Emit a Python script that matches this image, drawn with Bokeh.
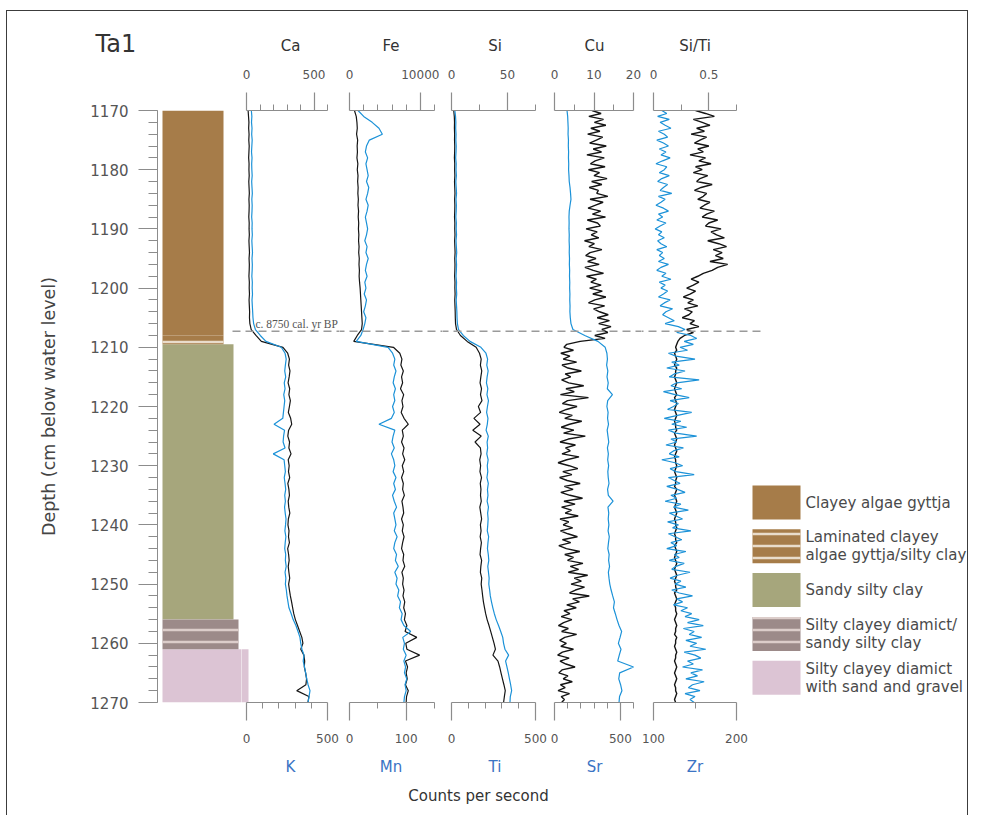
from bokeh.plotting import figure
from bokeh.models import Range1d, LinearAxis, FixedTicker, Label, Arrow, Title
from bokeh.layouts import row, column
from bokeh.embed import file_html
from bokeh.resources import INLINE
from bokeh.core.properties import value

FONT = "DejaVu Sans"

# ---------------- data ----------------
depth_1cm = [1170 + i for i in range(101)]
depth_05cm = [1170 + 0.5 * i for i in range(201)]

ca = [12, 15, 18, 16, 19, 17, 20, 18, 16, 19,
      18, 20, 17, 19, 21, 18, 20, 19, 17, 20,
      19, 21, 18, 20, 22, 19, 21, 20, 18, 21,
      20, 22, 19, 21, 23, 22, 25, 35, 70, 110,
      270, 305, 318, 312, 322, 316, 308, 320, 314, 325,
      318, 310, 327, 335, 312, 306, 319, 314, 330, 309,
      316, 311, 320, 306, 314, 318, 309, 313, 321, 310,
      307, 315, 311, 318, 305, 312, 316, 309, 314, 320,
      312, 318, 325, 334, 342, 350, 362, 378, 394, 410,
      418, 402, 425, 431, 428, 438, 445, 440, 372, 462,
      455]
k = [30, 33, 31, 34, 32, 35, 33, 31, 34, 32,
     33, 35, 32, 34, 36, 33, 35, 34, 32, 35,
     34, 36, 33, 35, 37, 34, 36, 35, 33, 36,
     35, 37, 34, 36, 38, 40, 44, 55, 85, 120,
     215, 238, 245, 240, 236, 242, 233, 238, 230, 236,
     232, 228, 224, 170, 235, 229, 226, 238, 165, 232,
     236, 240, 233, 238, 242, 236, 240, 235, 239, 244,
     241, 237, 243, 239, 236, 242, 240, 245, 238, 243,
     240, 246, 250, 256, 262, 276, 288, 305, 318, 330,
     335, 342, 355, 350, 358, 365, 372, 380, 392, 386,
     380]
fe = [700, 950, 1050, 1100, 1000, 1150, 1080, 1120, 1050, 1180,
      1100, 1200, 1150, 1220, 1180, 1250, 1200, 1280, 1230, 1300,
      1260, 1320, 1280, 1350, 1300, 1380, 1340, 1400, 1360, 1420,
      1500, 1550, 1600, 1650, 1700, 1750, 1800, 1700, 1100, 600,
      6200, 7100, 7400, 7250, 7600, 7350, 7500, 7200, 7650, 7400,
      7550, 7300, 7700, 8300, 7450, 7600, 7350, 7700, 7500, 7800,
      7450, 7650, 7350, 7600, 7500, 7750, 7400, 7550, 7650, 7350,
      7600, 7450, 7700, 7500, 7350, 7650, 7550, 7800, 7400, 7600,
      7500, 7700, 7550, 7800, 7650, 7900, 7750, 8100, 7850, 9500,
      7950, 8100, 9900, 7900, 8200, 8000, 8150, 7900, 8300, 8050,
      8000]
mn = [15, 25, 40, 52, 58, 35, 30, 28, 32, 29,
      31, 33, 30, 34, 32, 29, 33, 31, 28, 30,
      32, 30, 27, 31, 29, 33, 30, 28, 31, 27,
      29, 26, 30, 28, 25, 29, 27, 24, 20, 12,
      68, 76, 80, 78, 82, 79, 77, 81, 78, 80,
      76, 79, 74, 52, 80, 77, 75, 79, 74, 78,
      80, 77, 82, 78, 81, 76, 79, 83, 78, 80,
      82, 79, 84, 80, 78, 83, 81, 86, 80, 84,
      82, 87, 85, 90, 88, 93, 91, 96, 108, 94,
      97, 95, 100, 96, 99, 97, 101, 98, 100, 97,
      96]
si = [2.0, 2.5, 2.7, 2.6, 2.8, 2.7, 2.9, 2.8, 2.6, 2.9,
      2.8, 3.0, 2.7, 2.9, 3.1, 2.8, 3.0, 2.9, 2.7, 3.0,
      2.9, 3.1, 2.8, 3.0, 3.2, 2.9, 3.1, 3.0, 2.8, 3.1,
      3.0, 3.2, 2.9, 3.1, 3.3, 3.4, 3.6, 4.5, 8.0, 14.0,
      22.0, 25.0, 26.5, 25.8, 27.0, 26.2, 25.5, 26.8, 25.9, 27.2,
      24.0, 26.0, 20.0, 25.5, 19.0, 26.5, 21.0, 25.8, 26.4, 25.2,
      26.0, 25.4, 26.8, 25.7, 26.3, 25.9, 26.6, 25.3, 26.1, 26.9,
      25.8, 26.4, 25.6, 26.7, 26.0, 25.5, 26.9, 26.2, 25.8, 27.0,
      26.5, 27.2, 27.8, 28.5, 29.5, 30.5, 31.8, 33.5, 35.0, 36.5,
      38.0, 39.2, 37.0, 41.5, 43.0, 44.2, 45.5, 46.8, 48.0, 47.2,
      46.5]
ti = [20, 24, 26, 25, 27, 26, 28, 27, 25, 28,
      27, 29, 26, 28, 30, 27, 29, 28, 26, 29,
      28, 30, 27, 29, 31, 28, 30, 29, 27, 30,
      29, 31, 28, 30, 32, 33, 35, 42, 70, 110,
      175, 205, 215, 210, 218, 212, 208, 216, 211, 220,
      214, 209, 217, 213, 206, 219, 212, 215, 210, 218,
      213, 216, 211, 219, 214, 217, 212, 220, 215, 218,
      216, 213, 221, 217, 214, 219, 222, 216, 220, 224,
      222, 227, 231, 238, 246, 255, 266, 280, 293, 305,
      310, 318, 340, 322, 330, 338, 345, 352, 358, 350,
      348]
sr = [95, 100, 102, 104, 103, 106, 105, 107, 106, 108,
      107, 110, 112, 118, 122, 125, 118, 112, 110, 111,
      110, 112, 111, 113, 112, 114, 113, 115, 114, 116,
      115, 117, 116, 118, 117, 120, 125, 140, 230, 330,
      385, 398, 402, 396, 405, 399, 408, 401, 440, 404,
      398, 407, 403, 410, 400, 406, 412, 402, 409, 404,
      411, 405, 408, 414, 403, 409, 445, 406, 412, 408,
      413, 407, 416, 410, 405, 415, 411, 418, 409, 414,
      420, 430, 442, 455, 448, 462, 475, 490, 510, 498,
      485, 505, 492, 480, 600, 495, 488, 502, 512, 494,
      490]
cu = [9.5, 11.8, 8.7, 12.4, 10.1, 13.0, 9.2, 11.5, 8.4, 12.2,
      10.6, 8.9, 13.1, 9.8, 11.9, 8.2, 12.6, 10.3, 9.1, 12.8,
      8.6, 11.4, 10.0, 13.3, 9.4, 12.0, 8.8, 11.1, 10.7, 13.5,
      9.0, 12.3, 10.4, 8.5, 11.7, 9.6, 12.9, 8.3, 10.9, 11.6,
      8.0, 10.8, 9.3, 11.2, 7.6, 10.1, 8.7, 12.0, 9.0, 7.9,
      10.5, 8.4, 11.3, 7.7, 9.8, 12.4, 8.1, 10.6, 9.2, 11.8,
      8.9, 12.1, 9.7, 13.0, 10.2, 8.6, 12.7, 9.9, 11.4, 13.6,
      10.8, 13.9, 11.2, 14.3, 12.0, 13.5, 10.2, 12.8, 6.5, 3.1,
      2.4, 4.8, 1.6, 3.9, 2.2, 5.6, 1.9, 3.4, 6.8, 2.7,
      4.1, 1.8, 3.6, 7.4, 2.9, 5.0, 1.5, 8.6, 3.3, 2.0,
      5.7, 3.0, 1.2, 4.5, 2.6, 6.9, 3.8, 1.7, 4.9, 2.3,
      7.8, 3.5, 1.4, 5.3, 2.8, 4.0, 1.9, 6.2, 3.1, 0.9,
      3.7, 5.9, 2.1, 4.4, 1.3, 3.2, 6.5, 2.5, 4.7, 1.6,
      3.9, 7.1, 2.4, 5.2, 1.8, 4.3, 2.7, 6.0, 1.4, 3.6,
      2.2, 4.6, 1.5, 3.4, 5.8, 2.0, 4.1, 1.1, 3.0, 6.4,
      2.6, 4.8, 3.3, 7.2, 4.0, 6.1, 3.5, 8.4, 5.0, 6.8,
      4.2, 7.6, 5.3, 3.8, 8.8, 4.6, 6.3, 3.1, 5.5, 2.4,
      3.9, 1.7, 4.4, 2.3, 1.0, 3.5, 1.8, 5.6, 2.6, 1.3,
      3.0, 1.6, 4.8, 2.0, 0.8, 3.7, 1.4, 2.9, 5.2, 1.9,
      1.1, 3.4, 2.2, 4.5, 1.5, 2.7, 0.9, 3.8, 1.7, 2.5,
      1.8]
si_ti = [0.38, 0.47, 0.55, 0.36, 0.44, 0.51, 0.39, 0.46, 0.34, 0.48,
         0.42, 0.37, 0.50, 0.40, 0.45, 0.33, 0.47, 0.41, 0.52, 0.38,
         0.44, 0.36, 0.49, 0.42, 0.39, 0.53, 0.43, 0.37, 0.48, 0.45,
         0.40, 0.51, 0.46, 0.42, 0.55, 0.48, 0.44, 0.58, 0.50, 0.47,
         0.61, 0.52, 0.57, 0.64, 0.49, 0.59, 0.66, 0.54, 0.62, 0.56,
         0.63, 0.51, 0.67, 0.58, 0.53, 0.45, 0.40, 0.34, 0.41, 0.36,
         0.30, 0.38, 0.33, 0.27, 0.36, 0.31, 0.40, 0.28, 0.35, 0.32,
         0.26, 0.37, 0.33, 0.41, 0.30, 0.36, 0.28, 0.24, 0.22, 0.21,
         0.20, 0.21, 0.19, 0.20, 0.21, 0.20, 0.19, 0.21, 0.20, 0.20,
         0.19, 0.20, 0.21, 0.20, 0.19, 0.20, 0.21, 0.19, 0.20, 0.21,
         0.20, 0.19, 0.20, 0.21, 0.20, 0.19, 0.20, 0.20, 0.21, 0.19,
         0.20, 0.21, 0.20, 0.19, 0.20, 0.21, 0.20, 0.19, 0.20, 0.20,
         0.21, 0.20, 0.19, 0.20, 0.21, 0.20, 0.20, 0.19, 0.21, 0.20,
         0.19, 0.20, 0.21, 0.20, 0.19, 0.20, 0.21, 0.20, 0.19, 0.20,
         0.20, 0.21, 0.20, 0.19, 0.20, 0.20, 0.21, 0.19, 0.20, 0.21,
         0.20, 0.19, 0.20, 0.21, 0.20, 0.19, 0.20, 0.21, 0.20, 0.19,
         0.20, 0.20, 0.21, 0.19, 0.20, 0.21, 0.20, 0.19, 0.20, 0.20,
         0.21, 0.20, 0.19, 0.20, 0.21, 0.20, 0.20, 0.19, 0.21, 0.20,
         0.20, 0.19, 0.20, 0.21, 0.20, 0.20, 0.19, 0.20, 0.21, 0.20,
         0.19, 0.20, 0.21, 0.20, 0.19, 0.20, 0.20, 0.21, 0.20, 0.19,
         0.20]
zr = [110, 116, 105, 119, 108, 114, 121, 106, 113, 117,
      104, 112, 118, 107, 115, 109, 120, 111, 103, 116,
      113, 107, 119, 110, 105, 117, 112, 108, 122, 106,
      114, 109, 103, 112, 118, 106, 111, 104, 115, 108,
      102, 110, 106, 113, 105, 109, 116, 104, 111, 107,
      113, 106, 118, 109, 104, 115, 110, 121, 107, 114,
      109, 117, 112, 106, 120, 113, 108, 123, 115, 111,
      118, 125, 114, 130, 138, 128, 145, 152, 137, 148,
      132, 141, 118, 127, 150, 122, 131, 116, 138, 125,
      119, 155, 128, 121, 134, 112, 126, 143, 120, 130,
      124, 117, 146, 129, 113, 133, 122, 140, 118, 127,
      152, 121, 128, 115, 136, 124, 119, 131, 110, 126,
      135, 120, 127, 149, 118, 125, 132, 116, 129, 138,
      121, 128, 114, 133, 124, 142, 119, 127, 135, 117,
      130, 123, 145, 118, 126, 134, 121, 128, 116, 139,
      125, 131, 119, 137, 127, 122, 144, 129, 120, 133,
      126, 139, 122, 131, 147, 128, 135, 124, 141, 133,
      146, 138, 155, 141, 160, 136, 149, 143, 158, 139,
      152, 144, 163, 137, 150, 157, 141, 148, 135, 159,
      145, 153, 139, 161, 147, 142, 156, 138, 150, 144,
      149]

for s in (ca, k, fe, mn, si, ti, sr):
    assert len(s) == 101, len(s)
for s in (cu, si_ti, zr):
    assert len(s) == 201, len(s)

depth_ticks = [1170, 1180, 1190, 1200, 1210, 1220, 1230, 1240, 1250, 1260, 1270]
depth_minor = [1170 + 2 * i for i in range(51)]

# lithology units
litho_names = ["Clayey algae gyttja", "Laminated clayey\nalgae gyttja/silty clay",
               "Sandy silty clay", "Silty clayey diamict/\nsandy silty clay",
               "Silty clayey diamict\nwith sand and gravel"]
litho_top = [1170, 1208, 1209.5, 1256, 1261]
litho_base = [1208, 1209.5, 1256, 1261, 1270]
litho_right_px = [223, 223, 233, 238, 248]   # column width (grain-size style), page px
litho_left_px = 162
litho_color = ["#a67c49", "#a67c49", "#a6a67c", "#9c8a89", "#dcc4d4"]
litho_laminated = [False, True, False, True, False]
litho_stripe = ["#e6d6c0", "#e9dccb", "#e6d6c0", "#dccdca", "#e6d6c0"]

# panel definitions
panels = [
    ("Ca", (0, 600), [0, 500], ["0", "500"], [100, 200, 300, 400, 600],
     "K", (0, 500), [0, 500], ["0", "500"], [100, 200, 300, 400],
     ca, depth_1cm, k, depth_1cm),
    ("Fe", (0, 12000), [0, 10000], ["0", "10000"], [2000, 4000, 6000, 8000, 12000],
     "Mn", (0, 150), [0, 100], ["0", "100"], [50, 150],
     fe, depth_1cm, mn, depth_1cm),
    ("Si", (0, 75), [0, 50], ["0", "50"], [25, 75],
     "Ti", (0, 500), [0, 500], ["0", "500"], [100, 200, 300, 400],
     si, depth_1cm, ti, depth_1cm),
    ("Cu", (0, 20), [0, 10, 20], ["0", "10", "20"], [5, 15],
     "Sr", (0, 600), [0, 500], ["0", "500"], [100, 200, 300, 400, 600],
     cu, depth_05cm, sr, depth_1cm),
    ("Si/Ti", (0, 0.75), [0, 0.5], ["0", "0.5"], [0.25, 0.75],
     "Zr", (100, 200), [100, 200], ["100", "200"], [150],
     si_ti, depth_05cm, zr, depth_05cm),
]

# ---------------- layout geometry (page pixels) ----------------
Y0 = 11
BT, FH, BB = 99, 592, 80
CAPTION_H = 33
DEPTH_TOP, DEPTH_BOT = 1170, 1270
canvas_edges = [7, 241, 339, 442, 547, 641, 748, 967]
FIG0_LEFT_BORDER = 150
axis_px = [(246, 327), (349, 434), (451, 535), (554, 633), (653, 736)]
FRAME_TOP = Y0 + BT

BLACK = "#151515"
BLUE = "#1c92d8"
AXIS_GREY = "#8c8c8c"
LABEL_BLUE = "#3b74c4"

yr = Range1d(DEPTH_BOT, DEPTH_TOP)
FIGS = []


def py_to_depth(py):
    return DEPTH_TOP + (py - FRAME_TOP) / FH * (DEPTH_BOT - DEPTH_TOP)


def px_to_x(fi, px):
    f = FIGS[fi]
    return f["s"] + (px - f["left"]) / f["fw"] * (f["e"] - f["s"])


def extend(v0, v1, a, b, L, R):
    u = (v1 - v0) / (b - a)
    return (v0 - (a - L) * u, v1 + (R - b) * u)


def make_fig(left, right, xr, border_left=0, left_axis=False):
    fw = right - left - border_left
    p = figure(frame_width=fw, frame_height=FH, min_border_left=border_left, min_border_right=0,
               min_border_top=BT, min_border_bottom=BB, x_range=xr, y_range=yr,
               x_axis_location=None, y_axis_location=("left" if left_axis else None),
               title=None, tools="", toolbar_location=None, output_backend="svg")
    p.grid.visible = False
    p.outline_line_color = None
    FIGS.append(dict(p=p, left=left + border_left, fw=fw, s=xr.start, e=xr.end))
    return p


def style_axis(ax, title, tcolor, ticks, labels, minor, top):
    ax.ticker = FixedTicker(ticks=ticks, minor_ticks=minor)
    ax.major_label_overrides = {t: l for t, l in zip(ticks, labels)}
    ax.axis_label = title
    ax.axis_label_text_font = FONT
    ax.axis_label_text_font_size = "15px"
    ax.axis_label_text_font_style = "normal"
    ax.axis_label_text_color = tcolor
    ax.axis_label_standoff = 12
    ax.major_label_text_font = FONT
    ax.major_label_text_font_size = "12px"
    ax.major_label_text_color = "#555555"
    ax.major_label_standoff = 14 if top else 13
    ax.axis_line_color = AXIS_GREY
    ax.major_tick_line_color = AXIS_GREY
    ax.minor_tick_line_color = AXIS_GREY
    ax.axis_line_width = 1.2
    ax.major_tick_line_width = 1.2
    ax.major_tick_out = 18
    ax.major_tick_in = 0
    ax.minor_tick_out = 6
    ax.minor_tick_in = 0


def draw_litho(fi):
    p = FIGS[fi]["p"]
    for lamin in (False, True):
        idx = [i for i in range(5) if litho_laminated[i] == lamin]
        kw = dict(left=[px_to_x(fi, litho_left_px)] * len(idx),
                  right=[px_to_x(fi, litho_right_px[i]) for i in idx],
                  top=[litho_top[i] for i in idx], bottom=[litho_base[i] for i in idx],
                  fill_color=[litho_color[i] for i in idx], line_color=None)
        if lamin:
            kw.update(hatch_pattern=value("horizontal_line"),
                      hatch_color=[litho_stripe[i] for i in idx],
                      hatch_weight=2.5, hatch_scale=12)
        p.quad(**kw)


# ---- depth axis + lithology column ----
L0 = canvas_edges[0]
R0 = canvas_edges[1]
p0 = make_fig(L0, R0, Range1d(0, R0 - L0 - FIG0_LEFT_BORDER), border_left=FIG0_LEFT_BORDER,
              left_axis=True)
ya = p0.yaxis[0]
ya.ticker = FixedTicker(ticks=depth_ticks, minor_ticks=depth_minor)
ya.axis_label = "Depth (cm below water level)"
ya.axis_label_text_font = FONT
ya.axis_label_text_font_size = "17.5px"
ya.axis_label_text_font_style = "normal"
ya.axis_label_text_color = "#444444"
ya.axis_label_standoff = 28
ya.major_label_text_font = FONT
ya.major_label_text_font_size = "15px"
ya.major_label_text_color = "#555555"
ya.major_label_standoff = 10
ya.axis_line_color = AXIS_GREY
ya.major_tick_line_color = AXIS_GREY
ya.minor_tick_line_color = AXIS_GREY
ya.major_tick_out = 19
ya.major_tick_in = 0
ya.minor_tick_out = 9
ya.minor_tick_in = 0
draw_litho(0)
# core name above the column: a blank spacer title keeps it up at the level of the panel names
p0.add_layout(Title(text=" ", standoff=40, text_font=FONT, text_font_size="10px"), "above")
p0.add_layout(Title(text="Ta1", align="left", offset=95 - (L0 + FIG0_LEFT_BORDER),
                    standoff=0, text_font=FONT, text_font_size="24px",
                    text_font_style="normal", text_color="#333333"), "above")

# ---- element panels ----
for j, (tt, trg, tticks, tlab, tminor, bt, brg, bticks, blab, bminor,
        blk, dblk, blu, dblu) in enumerate(panels):
    L, R = canvas_edges[j + 1], canvas_edges[j + 2]
    a, b = axis_px[j]
    p = make_fig(L, R, Range1d(*extend(trg[0], trg[1], a, b, L, R)))
    p.extra_x_ranges = {"b": Range1d(*extend(brg[0], brg[1], a, b, L, R))}
    top_ax = LinearAxis(bounds=trg)
    style_axis(top_ax, tt, "#333333", tticks, tlab, tminor, True)
    p.add_layout(top_ax, "above")
    bot_ax = LinearAxis(x_range_name="b", bounds=brg)
    style_axis(bot_ax, bt, LABEL_BLUE, bticks, blab, bminor, False)
    p.add_layout(bot_ax, "below")
    lw = 1.4 if blk is cu or blk is si_ti else 1.2
    p.line(x=blk, y=dblk, line_color=BLACK, line_width=lw)
    p.line(x=blu, y=dblu, line_color=BLUE, line_width=1.2, x_range_name="b")

draw_litho(1)   # the widest unit of the column reaches just into the first panel

# ---- legend column ----
LEG0 = canvas_edges[6]
pl = make_fig(LEG0, canvas_edges[7], Range1d(LEG0, canvas_edges[7]))
leg_top_px = [485 + 43.8 * i for i in range(5)]
leg_tops = [py_to_depth(t) for t in leg_top_px]
leg_bots = [py_to_depth(t + 34) for t in leg_top_px]
leg_mid = [py_to_depth(t + 17) for t in leg_top_px]
for lamin in (False, True):
    idx = [i for i in range(5) if litho_laminated[i] == lamin]
    kw = dict(left=[752] * len(idx), right=[800] * len(idx),
              top=[leg_tops[i] for i in idx], bottom=[leg_bots[i] for i in idx],
              fill_color=[litho_color[i] for i in idx], line_color=None)
    if lamin:
        kw.update(hatch_pattern=value("horizontal_line"),
                  hatch_color=[litho_stripe[i] for i in idx],
                  hatch_weight=2.5, hatch_scale=12)
    pl.quad(**kw)
pl.text(x=[805] * 5, y=leg_mid, text=litho_names, text_font=value(FONT),
        text_font_size=value("15px"), text_color="#4a4a4a", text_baseline="middle",
        text_align="left", text_line_height=1.0)

# ---- age marker: dashed line across all frames + its text ----
DASH_DEPTH = 1207.3
for fi, f in enumerate(FIGS):
    f["p"].add_layout(Arrow(end=None, x_start=px_to_x(fi, 232), x_end=px_to_x(fi, 760),
                            y_start=DASH_DEPTH, y_end=DASH_DEPTH, line_color="#9a9a9a",
                            line_width=1.6, line_dash="8 5"))
FIGS[1]["p"].add_layout(Label(x=px_to_x(1, 255), y=py_to_depth(329),
                              text="c. 8750 cal. yr BP", text_font="Liberation Serif",
                              text_font_size="11.5px", text_color="#555555",
                              text_baseline="bottom", text_align="left"))

# ---- shared x caption in its own full-width strip ----
cap = figure(frame_width=canvas_edges[-1] - canvas_edges[0], frame_height=CAPTION_H,
             min_border_left=0, min_border_right=0, min_border_top=0, min_border_bottom=0,
             x_range=Range1d(canvas_edges[0], canvas_edges[-1]), y_range=Range1d(CAPTION_H, 0),
             x_axis_location=None, y_axis_location=None, title=None, tools="",
             toolbar_location=None, output_backend="svg")
cap.grid.visible = False
cap.outline_line_color = None
cap.text(x=[478], y=[13], text=["Counts per second"], text_font=value(FONT),
         text_font_size=value("15px"), text_color="#333333", text_align="center",
         text_baseline="middle")

layout = column(row([f["p"] for f in FIGS], spacing=0), cap, spacing=0, margin=(10, 0, 0, 6),
                styles={"border-top": "1px solid #3c3c3c", "border-left": "1px solid #3c3c3c",
                        "border-right": "1px solid #3c3c3c"})

open("out.html", "w").write(file_html(layout, INLINE))
